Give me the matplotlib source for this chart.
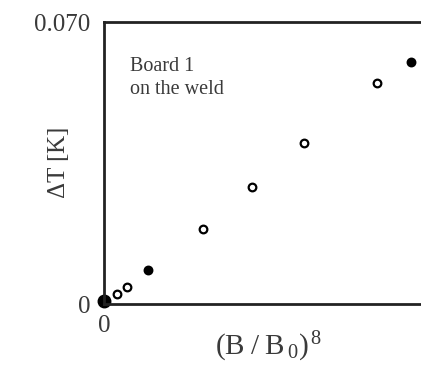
import numpy as np
import matplotlib
matplotlib.use('Agg')
import matplotlib.pyplot as plt

# (B/B0)^8 in arbitrary units, dT in K
x_vals = [0.0, 0.04, 0.07, 0.135, 0.30, 0.45, 0.61, 0.83, 0.935]
dT_vals = [0.0007, 0.0025, 0.0042, 0.0084, 0.0186, 0.029, 0.040, 0.0548, 0.060]
filled = [True, False, False, True, False, False, False, False, True]

plt.rcParams['font.family'] = ['Liberation Serif', 'DejaVu Serif']
plt.rcParams['mathtext.fontset'] = 'custom'
plt.rcParams['mathtext.rm'] = 'Liberation Serif'
plt.rcParams['mathtext.it'] = 'Liberation Serif'

grey = '#3a3a3a'

fig = plt.figure(figsize=(4.21, 3.74), dpi=100)
ax = fig.add_axes([0.247, 0.187, 0.78, 0.754])

for x, y, f in zip(x_vals, dT_vals, filled):
    ax.plot(x, y, 'o', ms=5.5, mec='black', mew=1.6,
            mfc='black' if f else 'white', clip_on=False)
ax.plot(x_vals[0], dT_vals[0], 'o', ms=9, color='black', clip_on=False)

ax.set_xlim(0, 1.0)
ax.set_ylim(0, 0.070)
ax.set_xticks([0])
ax.set_xticklabels(['0'])
ax.set_yticks([0, 0.070])
ax.set_yticklabels(['0', '0.070'])
ax.tick_params(length=0, labelsize=18, labelcolor=grey)
ax.tick_params(axis='y', pad=10)
ax.tick_params(axis='x', pad=8)

for s in ['left', 'top', 'bottom']:
    ax.spines[s].set_linewidth(2)
    ax.spines[s].set_color('#222222')
ax.spines['right'].set_visible(False)

ax.set_ylabel(r'$\Delta$T [K]', fontsize=18, color=grey, labelpad=-27)
ax.set_xlabel(r'$(\mathrm{B}\;/\;\mathrm{B}_{\,0})^{\,8}$', fontsize=21, color=grey, labelpad=-5)

ax.text(0.08, 0.875, 'Board 1\non the weld', transform=ax.transAxes,
        fontsize=14.5, color=grey, va='top', linespacing=1.25)

fig.savefig('out.png', dpi=100)
